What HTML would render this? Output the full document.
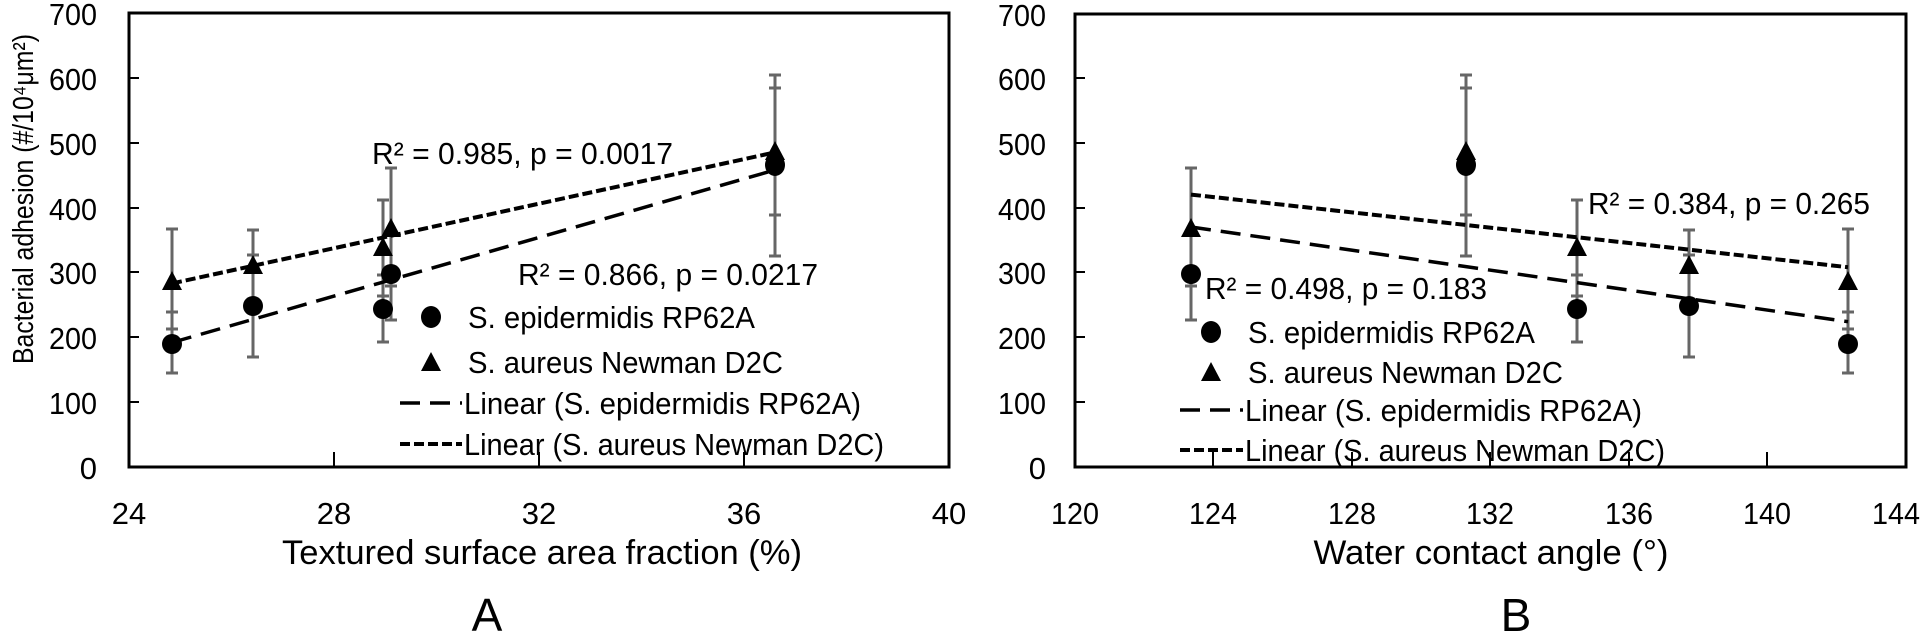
<!DOCTYPE html>
<html><head><meta charset="utf-8"><style>
html,body{margin:0;padding:0;background:#fff;}
svg{display:block;font-family:"Liberation Sans",sans-serif;}
</style></head><body>
<svg width="1920" height="635" viewBox="0 0 1920 635" xmlns="http://www.w3.org/2000/svg">
<defs>
<g id="tri"><polygon points="0,-11 10,8 -10,8" fill="#000"/></g>
</defs>
<!-- ===== LEFT ===== -->
<rect x="129" y="13" width="820" height="454" fill="none" stroke="#000" stroke-width="3"/>
<g stroke="#000" stroke-width="2">
<line x1="129" y1="402" x2="139" y2="402"/><line x1="129" y1="337" x2="139" y2="337"/>
<line x1="129" y1="272" x2="139" y2="272"/><line x1="129" y1="208" x2="139" y2="208"/>
<line x1="129" y1="143" x2="139" y2="143"/><line x1="129" y1="78" x2="139" y2="78"/>
<line x1="334" y1="467" x2="334" y2="452"/><line x1="539" y1="467" x2="539" y2="452"/><line x1="744" y1="467" x2="744" y2="452"/>
</g>
<g font-size="31" text-anchor="end" fill="#000" lengthAdjust="spacingAndGlyphs">
<text x="97" y="25" textLength="48" lengthAdjust="spacingAndGlyphs">700</text><text x="97" y="90" textLength="48" lengthAdjust="spacingAndGlyphs">600</text><text x="97" y="155" textLength="48" lengthAdjust="spacingAndGlyphs">500</text><text x="97" y="220" textLength="48" lengthAdjust="spacingAndGlyphs">400</text>
<text x="97" y="284" textLength="48" lengthAdjust="spacingAndGlyphs">300</text><text x="97" y="349" textLength="48" lengthAdjust="spacingAndGlyphs">200</text><text x="97" y="414" textLength="48" lengthAdjust="spacingAndGlyphs">100</text><text x="97" y="479">0</text>
</g>
<g font-size="31" text-anchor="middle">
<text x="129" y="524">24</text><text x="334" y="524">28</text><text x="539" y="524">32</text><text x="744" y="524">36</text><text x="949" y="524">40</text>
</g>
<text x="542" y="564" font-size="34" text-anchor="middle" textLength="520" lengthAdjust="spacingAndGlyphs">Textured surface area fraction (%)</text>
<text x="487" y="631" font-size="46" text-anchor="middle">A</text>
<text transform="translate(33,199) rotate(-90)" font-size="29" text-anchor="middle" textLength="330" lengthAdjust="spacingAndGlyphs">Bacterial adhesion (#/10⁴μm²)</text>
<!-- error bars left -->
<g stroke="#666" stroke-width="3">
<line x1="172" y1="229" x2="172" y2="373"/><line x1="253" y1="230" x2="253" y2="357"/>
<line x1="383" y1="200" x2="383" y2="342"/><line x1="391" y1="168" x2="391" y2="320"/>
<line x1="775" y1="75" x2="775" y2="256"/>
<line x1="166" x2="178" y1="229" y2="229"/><line x1="166" x2="178" y1="312" y2="312"/><line x1="166" x2="178" y1="329" y2="329"/><line x1="166" x2="178" y1="373" y2="373"/>
<line x1="247" x2="259" y1="230" y2="230"/><line x1="247" x2="259" y1="255" y2="255"/><line x1="247" x2="259" y1="357" y2="357"/>
<line x1="377" x2="389" y1="200" y2="200"/><line x1="377" x2="389" y1="275" y2="275"/><line x1="377" x2="389" y1="296" y2="296"/><line x1="377" x2="389" y1="342" y2="342"/>
<line x1="385" x2="397" y1="168" y2="168"/><line x1="385" x2="397" y1="286" y2="286"/><line x1="385" x2="397" y1="320" y2="320"/>
<line x1="769" x2="781" y1="75" y2="75"/><line x1="769" x2="781" y1="88" y2="88"/><line x1="769" x2="781" y1="215" y2="215"/><line x1="769" x2="781" y1="256" y2="256"/>
</g>
<line x1="172" y1="342.5" x2="775" y2="170" stroke="#000" stroke-width="3.5" stroke-dasharray="20,10"/>
<line x1="172" y1="283.4" x2="775" y2="152.4" stroke="#000" stroke-width="4" stroke-dasharray="10,4"/>
<g fill="#000">
<ellipse cx="172" cy="344" rx="10" ry="10"/><ellipse cx="253" cy="306" rx="10" ry="10"/>
<ellipse cx="383" cy="309" rx="10" ry="10"/><ellipse cx="391" cy="274" rx="10" ry="10"/>
<ellipse cx="775" cy="165" rx="10" ry="11"/>
</g>
<use href="#tri" x="172" y="282"/><use href="#tri" x="253" y="266"/><use href="#tri" x="383" y="248"/><use href="#tri" x="391" y="229"/><use href="#tri" x="775" y="152"/>
<g font-size="31">
<text x="372" y="164" textLength="301" lengthAdjust="spacingAndGlyphs">R² = 0.985,  p = 0.0017</text>
<text x="518" y="285" textLength="300" lengthAdjust="spacingAndGlyphs">R² = 0.866,  p = 0.0217</text>
</g>
<!-- legend left -->
<ellipse cx="431" cy="317" rx="10" ry="11"/>
<use href="#tri" x="431" y="363"/>
<line x1="400" y1="403" x2="462" y2="403" stroke="#000" stroke-width="3.5" stroke-dasharray="20,10"/>
<line x1="400" y1="444" x2="462" y2="444" stroke="#000" stroke-width="4" stroke-dasharray="10,4"/>
<g font-size="31">
<text x="468" y="328" textLength="287" lengthAdjust="spacingAndGlyphs">S. epidermidis RP62A</text>
<text x="468" y="373" textLength="315" lengthAdjust="spacingAndGlyphs">S. aureus Newman D2C</text>
<text x="464" y="414" textLength="397" lengthAdjust="spacingAndGlyphs">Linear (S. epidermidis RP62A)</text>
<text x="464" y="455" textLength="420" lengthAdjust="spacingAndGlyphs">Linear (S. aureus Newman D2C)</text>
</g>
<!-- ===== RIGHT ===== -->
<rect x="1075" y="14" width="831" height="453" fill="none" stroke="#000" stroke-width="3"/>
<g stroke="#000" stroke-width="2">
<line x1="1075" y1="402" x2="1085" y2="402"/><line x1="1075" y1="337" x2="1085" y2="337"/>
<line x1="1075" y1="272" x2="1085" y2="272"/><line x1="1075" y1="208" x2="1085" y2="208"/>
<line x1="1075" y1="143" x2="1085" y2="143"/><line x1="1075" y1="78" x2="1085" y2="78"/>
<line x1="1213" y1="467" x2="1213" y2="452"/><line x1="1352" y1="467" x2="1352" y2="452"/><line x1="1490" y1="467" x2="1490" y2="452"/>
<line x1="1629" y1="467" x2="1629" y2="452"/><line x1="1767" y1="467" x2="1767" y2="452"/>
</g>
<g font-size="31" text-anchor="end">
<text x="1046" y="26" textLength="48" lengthAdjust="spacingAndGlyphs">700</text><text x="1046" y="90" textLength="48" lengthAdjust="spacingAndGlyphs">600</text><text x="1046" y="155" textLength="48" lengthAdjust="spacingAndGlyphs">500</text><text x="1046" y="220" textLength="48" lengthAdjust="spacingAndGlyphs">400</text>
<text x="1046" y="284" textLength="48" lengthAdjust="spacingAndGlyphs">300</text><text x="1046" y="349" textLength="48" lengthAdjust="spacingAndGlyphs">200</text><text x="1046" y="414" textLength="48" lengthAdjust="spacingAndGlyphs">100</text><text x="1046" y="479">0</text>
</g>
<g font-size="31" text-anchor="middle">
<text x="1075" y="524" textLength="48" lengthAdjust="spacingAndGlyphs">120</text><text x="1213" y="524" textLength="48" lengthAdjust="spacingAndGlyphs">124</text><text x="1352" y="524" textLength="48" lengthAdjust="spacingAndGlyphs">128</text><text x="1490" y="524" textLength="48" lengthAdjust="spacingAndGlyphs">132</text>
<text x="1629" y="524" textLength="48" lengthAdjust="spacingAndGlyphs">136</text><text x="1767" y="524" textLength="48" lengthAdjust="spacingAndGlyphs">140</text><text x="1896" y="524" textLength="48" lengthAdjust="spacingAndGlyphs">144</text>
</g>
<text x="1491" y="564" font-size="34" text-anchor="middle" textLength="355" lengthAdjust="spacingAndGlyphs">Water contact angle (°)</text>
<text x="1516" y="631" font-size="46" text-anchor="middle">B</text>
<g stroke="#666" stroke-width="3">
<line x1="1191" y1="168" x2="1191" y2="320"/><line x1="1466" y1="75" x2="1466" y2="256"/>
<line x1="1577" y1="200" x2="1577" y2="342"/><line x1="1689" y1="230" x2="1689" y2="357"/>
<line x1="1848" y1="229" x2="1848" y2="373"/>
<line x1="1185" x2="1197" y1="168" y2="168"/><line x1="1185" x2="1197" y1="286" y2="286"/><line x1="1185" x2="1197" y1="320" y2="320"/>
<line x1="1460" x2="1472" y1="75" y2="75"/><line x1="1460" x2="1472" y1="88" y2="88"/><line x1="1460" x2="1472" y1="215" y2="215"/><line x1="1460" x2="1472" y1="256" y2="256"/>
<line x1="1571" x2="1583" y1="200" y2="200"/><line x1="1571" x2="1583" y1="275" y2="275"/><line x1="1571" x2="1583" y1="296" y2="296"/><line x1="1571" x2="1583" y1="342" y2="342"/>
<line x1="1683" x2="1695" y1="230" y2="230"/><line x1="1683" x2="1695" y1="255" y2="255"/><line x1="1683" x2="1695" y1="357" y2="357"/>
<line x1="1842" x2="1854" y1="229" y2="229"/><line x1="1842" x2="1854" y1="312" y2="312"/><line x1="1842" x2="1854" y1="329" y2="329"/><line x1="1842" x2="1854" y1="373" y2="373"/>
</g>
<line x1="1191" y1="227" x2="1848" y2="321.7" stroke="#000" stroke-width="3.5" stroke-dasharray="20,10"/>
<line x1="1191" y1="194.6" x2="1848" y2="267.2" stroke="#000" stroke-width="4" stroke-dasharray="10,4"/>
<g fill="#000">
<ellipse cx="1191" cy="274" rx="10" ry="10"/><ellipse cx="1466" cy="165" rx="10" ry="11"/>
<ellipse cx="1577" cy="309" rx="10" ry="10"/><ellipse cx="1689" cy="306" rx="10" ry="10"/>
<ellipse cx="1848" cy="344" rx="10" ry="10"/>
</g>
<use href="#tri" x="1191" y="229"/><use href="#tri" x="1466" y="152"/><use href="#tri" x="1577" y="248"/><use href="#tri" x="1689" y="266"/><use href="#tri" x="1848" y="282"/>
<g font-size="31">
<text x="1588" y="214" textLength="282" lengthAdjust="spacingAndGlyphs">R² = 0.384,  p = 0.265</text>
<text x="1205" y="299" textLength="282" lengthAdjust="spacingAndGlyphs">R² = 0.498,  p = 0.183</text>
</g>
<ellipse cx="1211" cy="332" rx="10" ry="11"/>
<use href="#tri" x="1211" y="373"/>
<line x1="1180" y1="410" x2="1243" y2="410" stroke="#000" stroke-width="3.5" stroke-dasharray="20,10"/>
<line x1="1180" y1="450" x2="1243" y2="450" stroke="#000" stroke-width="4" stroke-dasharray="10,4"/>
<g font-size="31">
<text x="1248" y="343" textLength="287" lengthAdjust="spacingAndGlyphs">S. epidermidis RP62A</text>
<text x="1248" y="383" textLength="315" lengthAdjust="spacingAndGlyphs">S. aureus Newman D2C</text>
<text x="1245" y="421" textLength="397" lengthAdjust="spacingAndGlyphs">Linear (S. epidermidis RP62A)</text>
<text x="1245" y="461" textLength="420" lengthAdjust="spacingAndGlyphs">Linear (S. aureus Newman D2C)</text>
</g>
</svg>
</body></html>
